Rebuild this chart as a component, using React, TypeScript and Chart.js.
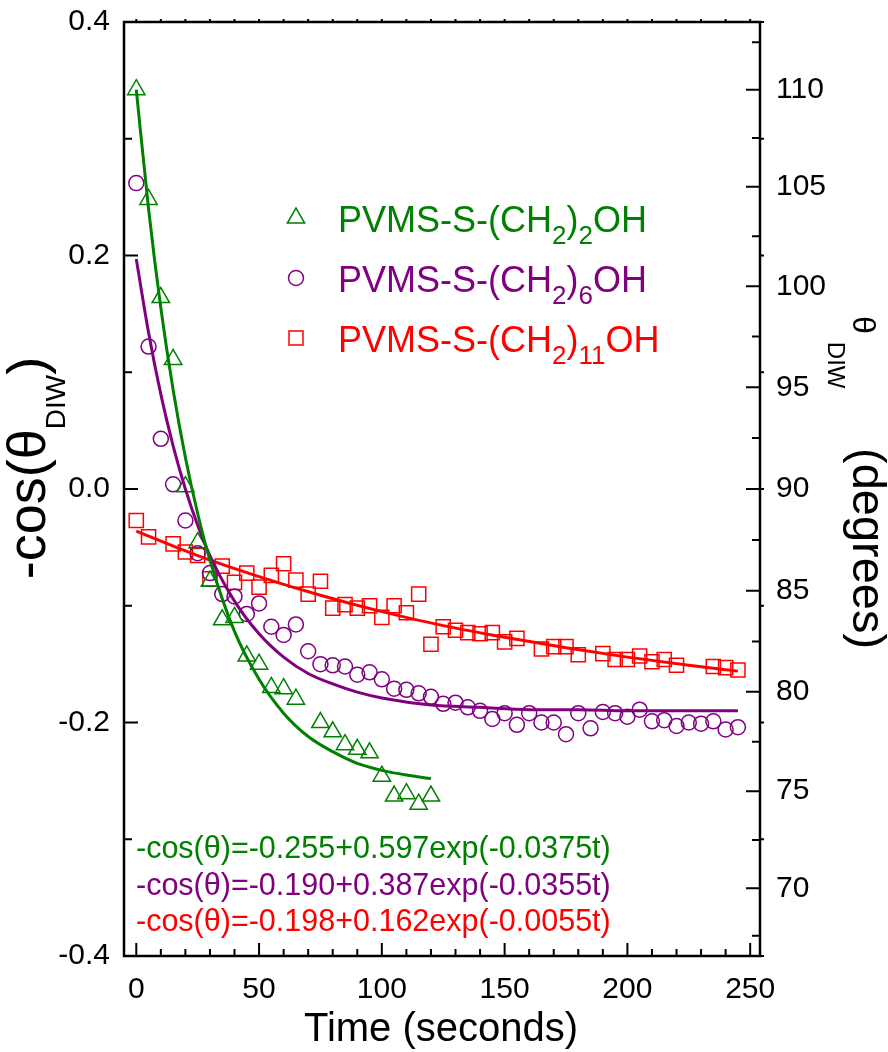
import React, { useEffect, useRef } from 'react';
import { Chart, registerables } from 'chart.js';

Chart.register(...registerables);

const FONT = '"Liberation Sans", Arial, Helvetica, sans-serif';
const GREEN = 'rgb(0,128,0)';
const PURPLE = 'rgb(128,0,128)';
const RED = 'rgb(255,0,0)';

// ---- measured data (time in seconds, value = -cos(theta)) ----
const tTriangle = [0, 5, 10, 15, 20, 25, 30, 35, 40, 45, 50, 55, 60, 65, 75, 80, 85, 90, 95, 100, 105, 110, 115, 120];
const yTriangle = [0.342, 0.248, 0.164, 0.111, 0.002, -0.046, -0.079, -0.112, -0.110, -0.143, -0.150, -0.170, -0.171, -0.180, -0.200, -0.208, -0.219, -0.223, -0.226, -0.246, -0.263, -0.261, -0.270, -0.263];

const tCircle = [0, 5, 10, 15, 20, 25, 30, 35, 40, 45, 50, 55, 60, 65, 70, 75, 80, 85, 90, 95, 100, 105, 110, 115, 120, 125, 130, 135, 140, 145, 150, 155, 160, 165, 170, 175, 180, 185, 190, 195, 200, 205, 210, 215, 220, 225, 230, 235, 240, 245];
const yCircle = [0.262, 0.122, 0.043, 0.004, -0.027, -0.055, -0.072, -0.090, -0.092, -0.107, -0.098, -0.118, -0.125, -0.116, -0.139, -0.150, -0.151, -0.152, -0.159, -0.157, -0.163, -0.171, -0.172, -0.175, -0.178, -0.184, -0.183, -0.187, -0.190, -0.197, -0.192, -0.202, -0.192, -0.200, -0.200, -0.210, -0.192, -0.205, -0.191, -0.192, -0.195, -0.189, -0.199, -0.198, -0.203, -0.200, -0.201, -0.199, -0.206, -0.204];

const tSquare = [0, 5, 15, 20, 25, 30, 35, 40, 45, 50, 55, 60, 65, 70, 75, 80, 85, 90, 95, 100, 105, 110, 115, 120, 125, 130, 135, 140, 145, 150, 155, 165, 170, 175, 180, 190, 195, 200, 205, 210, 215, 220, 235, 240, 245];
const ySquare = [-0.027, -0.041, -0.047, -0.054, -0.057, -0.077, -0.066, -0.080, -0.072, -0.084, -0.074, -0.064, -0.078, -0.090, -0.079, -0.102, -0.099, -0.102, -0.100, -0.110, -0.100, -0.106, -0.090, -0.133, -0.118, -0.121, -0.123, -0.124, -0.123, -0.131, -0.128, -0.137, -0.135, -0.135, -0.142, -0.141, -0.146, -0.146, -0.143, -0.148, -0.146, -0.151, -0.152, -0.153, -0.155];

// ---- fitted curves ----
const tFitGreen = [0, 5, 10, 15, 20, 25, 30, 40, 50, 60, 70, 80, 90, 100, 110, 120];
const yFitGreen = [0.342, 0.240, 0.155, 0.085, 0.027, -0.021, -0.061, -0.122, -0.163, -0.192, -0.212, -0.225, -0.235, -0.241, -0.245, -0.248];

const tFitPurple = [0, 5, 10, 15, 20, 25, 30, 40, 50, 60, 70, 80, 90, 100, 120, 140, 160, 180, 200, 245];
const yFitPurple = [0.197, 0.134, 0.081, 0.037, 0.000, -0.031, -0.057, -0.096, -0.124, -0.144, -0.158, -0.167, -0.174, -0.179, -0.185, -0.187, -0.189, -0.189, -0.190, -0.190];

const tFitRed = [0, 25, 50, 75, 100, 125, 150, 175, 200, 225, 245];
const yFitRed = [-0.036, -0.057, -0.075, -0.091, -0.105, -0.117, -0.127, -0.136, -0.144, -0.151, -0.156];

// ---- axes ----
const xTickValues = [0, 50, 100, 150, 200, 250];
const xMinorStep = 10;
const leftTickValues = [-0.4, -0.2, 0, 0.2, 0.4];
const leftMinorValues = [-0.3, -0.1, 0.1, 0.3];
const rightTickDegrees = [70, 75, 80, 85, 90, 95, 100, 105, 110];
const rightMinorDegrees = [67.5, 72.5, 77.5, 82.5, 87.5, 92.5, 97.5, 102.5, 107.5, 112.5];

// ---- texts ----
type Part = { t: string; sub?: boolean };
const legendEntries: { parts: Part[]; color: string; symbol: string }[] = [
  { parts: [{ t: 'PVMS-S-(CH' }, { t: '2', sub: true }, { t: ')' }, { t: '2', sub: true }, { t: 'OH' }], color: GREEN, symbol: 'triangle' },
  { parts: [{ t: 'PVMS-S-(CH' }, { t: '2', sub: true }, { t: ')' }, { t: '6', sub: true }, { t: 'OH' }], color: PURPLE, symbol: 'circle' },
  { parts: [{ t: 'PVMS-S-(CH' }, { t: '2', sub: true }, { t: ')' }, { t: '11', sub: true }, { t: 'OH' }], color: RED, symbol: 'rect' },
];
const equationTexts = [
  '-cos(\u03B8)=-0.255+0.597exp(-0.0375t)',
  '-cos(\u03B8)=-0.190+0.387exp(-0.0355t)',
  '-cos(\u03B8)=-0.198+0.162exp(-0.0055t)',
];
const equationColors = [GREEN, PURPLE, RED];
const xTitle = 'Time (seconds)';
const leftTitle: Part[] = [{ t: '-cos(\u03B8' }, { t: 'DIW', sub: true }, { t: ')' }];

const toRad = (d: number) => (d * Math.PI) / 180;
const degToVal = (d: number) => -Math.cos(toRad(d));

function pts(t: number[], y: number[]) {
  return t.map((v, i) => ({ x: v, y: y[i] }));
}

function drawSymbol(ctx: CanvasRenderingContext2D, kind: string, x: number, y: number, color: string) {
  ctx.save();
  ctx.strokeStyle = color;
  ctx.lineWidth = 1.5;
  ctx.beginPath();
  if (kind === 'triangle') {
    const r = 10;
    ctx.moveTo(x, y - r);
    ctx.lineTo(x + r * Math.sin(toRad(120)), y - r * Math.cos(toRad(120)));
    ctx.lineTo(x + r * Math.sin(toRad(240)), y - r * Math.cos(toRad(240)));
    ctx.closePath();
  } else if (kind === 'circle') {
    ctx.arc(x, y, 7.5, 0, Math.PI * 2);
  } else {
    const s = 7;
    ctx.rect(x - s, y - s, 2 * s, 2 * s);
  }
  ctx.stroke();
  ctx.restore();
}

function drawRich(ctx: CanvasRenderingContext2D, parts: Part[], x: number, y: number, size: number, subSize: number, subOff: number, color: string) {
  let cx = x;
  ctx.fillStyle = color;
  ctx.textAlign = 'left';
  ctx.textBaseline = 'alphabetic';
  for (const p of parts) {
    ctx.font = `${p.sub ? subSize : size}px ${FONT}`;
    ctx.fillText(p.t, cx, y + (p.sub ? subOff : 0));
    cx += ctx.measureText(p.t).width;
  }
  return cx - x;
}

function measureRich(ctx: CanvasRenderingContext2D, parts: Part[], size: number, subSize: number) {
  let w = 0;
  for (const p of parts) {
    ctx.font = `${p.sub ? subSize : size}px ${FONT}`;
    w += ctx.measureText(p.t).width;
  }
  return w;
}

const decorPlugin = {
  id: 'decor',
  afterDraw(chart: any) {
    const ctx: CanvasRenderingContext2D = chart.ctx;
    const { left, right, top, bottom } = chart.chartArea;
    const xs = chart.scales.x;
    const ys = chart.scales.y;
    ctx.save();
    ctx.strokeStyle = '#000';
    ctx.lineWidth = 2.5;
    ctx.lineCap = 'butt';
    ctx.strokeRect(left, top, right - left, bottom - top);

    ctx.lineWidth = 2;
    ctx.beginPath();
    // bottom ticks (inward) and mirrored small ticks on top (outward)
    for (let v = 0; v <= 250; v += xMinorStep) {
      const px = xs.getPixelForValue(v);
      const len = v % 50 === 0 ? 13 : 7;
      ctx.moveTo(px, bottom);
      ctx.lineTo(px, bottom - len);
      ctx.moveTo(px, top);
      ctx.lineTo(px, top - 3);
    }
    // left ticks (inward) and mirrored small ticks on the right (outward)
    for (const v of leftTickValues.concat(leftMinorValues)) {
      const py = ys.getPixelForValue(v);
      const len = leftTickValues.includes(v) ? 14 : 8;
      ctx.moveTo(left, py);
      ctx.lineTo(left + len, py);
      ctx.moveTo(right, py);
      ctx.lineTo(right + 4, py);
    }
    // right ticks (inward), theta scale
    for (const d of rightTickDegrees) {
      const py = ys.getPixelForValue(degToVal(d));
      ctx.moveTo(right, py);
      ctx.lineTo(right - 14, py);
    }
    for (const d of rightMinorDegrees) {
      const py = ys.getPixelForValue(degToVal(d));
      ctx.moveTo(right, py);
      ctx.lineTo(right - 8, py);
    }
    ctx.stroke();

    // legend
    legendEntries.forEach((e, i) => {
      const base = 232 + i * 60;
      drawSymbol(ctx, e.symbol, 296, base - 14, e.color);
      drawRich(ctx, e.parts, 338, base, 36, 26, 12, e.color);
    });

    // equations
    equationTexts.forEach((txt, i) => {
      ctx.font = `30.5px ${FONT}`;
      ctx.fillStyle = equationColors[i];
      ctx.textAlign = 'left';
      ctx.textBaseline = 'alphabetic';
      ctx.fillText(txt, 136, 858 + i * 36.5);
    });

    // x title
    ctx.font = `40px ${FONT}`;
    ctx.fillStyle = '#000';
    ctx.textAlign = 'center';
    ctx.textBaseline = 'alphabetic';
    ctx.fillText(xTitle, 441, 1041);

    // left title (rotated, reads bottom to top)
    const lw = measureRich(ctx, leftTitle, 54, 28);
    ctx.save();
    ctx.translate(45, 468 + lw / 2);
    ctx.rotate(-Math.PI / 2);
    drawRich(ctx, leftTitle, 0, 0, 54, 28, 20, '#000');
    ctx.restore();

    // right title (rotated, reads top to bottom)
    ctx.save();
    ctx.translate(853, 0);
    ctx.rotate(Math.PI / 2);
    ctx.fillStyle = '#000';
    ctx.textAlign = 'left';
    ctx.textBaseline = 'alphabetic';
    ctx.font = `32px ${FONT}`;
    ctx.fillText('\u03B8', 316, 0);
    const tw = ctx.measureText('\u03B8').width;
    ctx.font = `24px ${FONT}`;
    ctx.fillText('DIW', 316 + tw + 8, 25);
    ctx.font = `47px ${FONT}`;
    ctx.fillText('(degrees)', 448, 0);
    ctx.restore();

    ctx.restore();
  },
};

export default function App() {
  const ref = useRef<HTMLCanvasElement | null>(null);
  useEffect(() => {
    if (!ref.current) return;
    const tickFont = { size: 30, family: FONT };
    const chart = new Chart(ref.current, {
      type: 'scatter',
      data: {
        datasets: [
          { label: 'fitGreen', data: pts(tFitGreen, yFitGreen), showLine: true, borderColor: GREEN, borderWidth: 3, pointRadius: 0, cubicInterpolationMode: 'monotone', order: 0 } as any,
          { label: 'fitPurple', data: pts(tFitPurple, yFitPurple), showLine: true, borderColor: PURPLE, borderWidth: 3, pointRadius: 0, cubicInterpolationMode: 'monotone', order: 0 } as any,
          { label: 'fitRed', data: pts(tFitRed, yFitRed), showLine: true, borderColor: RED, borderWidth: 3, pointRadius: 0, cubicInterpolationMode: 'monotone', order: 0 } as any,
          { label: 'PVMS-S-(CH2)2OH', data: pts(tTriangle, yTriangle), pointStyle: 'triangle', pointRadius: 10, pointBorderWidth: 1.5, borderColor: GREEN, backgroundColor: 'rgba(0,0,0,0)', showLine: false, order: 1 } as any,
          { label: 'PVMS-S-(CH2)6OH', data: pts(tCircle, yCircle), pointStyle: 'circle', pointRadius: 7.5, pointBorderWidth: 1.5, borderColor: PURPLE, backgroundColor: 'rgba(0,0,0,0)', showLine: false, order: 1 } as any,
          { label: 'PVMS-S-(CH2)11OH', data: pts(tSquare, ySquare), pointStyle: 'rect', pointRadius: 10, pointBorderWidth: 1.5, borderColor: RED, backgroundColor: 'rgba(0,0,0,0)', showLine: false, order: 1 } as any,
        ],
      },
      options: {
        responsive: false,
        animation: false,
        layout: { padding: { top: 22, left: 0, right: 0, bottom: 0 } },
        plugins: { legend: { display: false }, tooltip: { enabled: false } },
        scales: {
          x: {
            type: 'linear',
            min: -5,
            max: 254,
            afterBuildTicks: (s: any) => { s.ticks = xTickValues.map((v) => ({ value: v })); },
            afterFit: (s: any) => { s.height = 96; s.paddingLeft = 0; s.paddingRight = 0; },
            ticks: { font: tickFont, color: '#000', padding: 16, maxRotation: 0, autoSkip: false, callback: (v: any) => String(v) },
            grid: { display: false, drawTicks: false },
            border: { display: false },
          },
          y: {
            type: 'linear',
            position: 'left',
            min: -0.4,
            max: 0.4,
            afterBuildTicks: (s: any) => { s.ticks = leftTickValues.map((v) => ({ value: v })); },
            afterFit: (s: any) => { s.width = 124; s.paddingTop = 0; s.paddingBottom = 0; },
            ticks: { font: tickFont, color: '#000', padding: 14, autoSkip: false, callback: (v: any) => Number(v).toFixed(1) },
            grid: { display: false, drawTicks: false },
            border: { display: false },
          },
          y1: {
            type: 'linear',
            position: 'right',
            min: -0.4,
            max: 0.4,
            afterBuildTicks: (s: any) => { s.ticks = rightTickDegrees.map((d) => ({ value: degToVal(d) })); },
            afterFit: (s: any) => { s.width = 128; s.paddingTop = 0; s.paddingBottom = 0; },
            ticks: { font: tickFont, color: '#000', padding: 16, autoSkip: false, callback: (v: any) => String(Math.round((Math.acos(-Number(v)) * 180) / Math.PI)) },
            grid: { display: false, drawTicks: false },
            border: { display: false },
          },
        },
      } as any,
      plugins: [decorPlugin],
    });
    return () => chart.destroy();
  }, []);
  return (
    <div style={{ position: 'absolute', left: 0, top: 0, width: 888, height: 1052, background: '#fff' }}>
      <canvas ref={ref} width={888} height={1052} />
    </div>
  );
}
